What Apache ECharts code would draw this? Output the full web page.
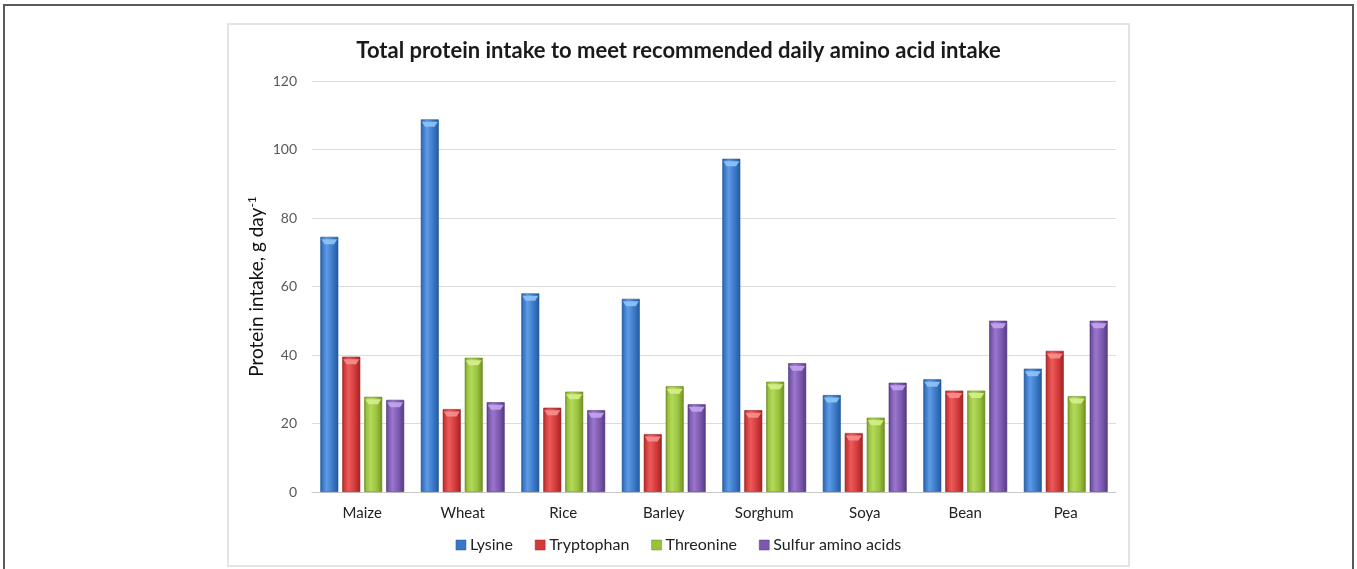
<!DOCTYPE html>
<html>
<head>
<meta charset="utf-8">
<script src="https://cdn.jsdelivr.net/npm/echarts@6/dist/echarts.min.js"></script>
<style>
  html, body { margin: 0; padding: 0; background: #ffffff; }
  #chart { width: 1357px; height: 569px; }
</style>
</head>
<body>
<div id="chart"></div>
<script>
// Crops and amino acids
const crops = ['Maize', 'Wheat', 'Rice', 'Barley', 'Sorghum', 'Soya', 'Bean', 'Pea'];
const seriesNames = ['Lysine', 'Tryptophan', 'Threonine', 'Sulfur amino acids'];

// Total protein intake (g/day) needed to meet the recommended intake of each amino acid
const lysine      = [74.5, 108.8, 58.0, 56.4, 97.3, 28.3, 32.9, 36.0];
const tryptophan  = [39.5, 24.2, 24.6, 16.9, 23.9, 17.2, 29.6, 41.2];
const threonine   = [27.8, 39.2, 29.3, 30.9, 32.2, 21.7, 29.6, 28.0];
const sulfurAA    = [26.9, 26.2, 23.9, 25.6, 37.6, 31.9, 50.0, 50.0];

const yTicks = [0, 20, 40, 60, 80, 100, 120];

const seriesData = [lysine, tryptophan, threonine, sulfurAA];

// dark edge / light highlight / base for each series
const palette = [
  { dark: '#23599e', light: '#5d9be6', base: '#3a78c6', cap: '#8fc4f5', legend: '#3a78c6' },
  { dark: '#9e2323', light: '#ec5a5a', base: '#d33a3a', cap: '#f59090', legend: '#d33a3a' },
  { dark: '#6f8d24', light: '#b3d95a', base: '#98c23c', cap: '#d6ef8e', legend: '#98c23c' },
  { dark: '#533a80', light: '#9a76cc', base: '#7b58ae', cap: '#c3a5ee', legend: '#7b58ae' }
];

function bodyGradient(p) {
  return new echarts.graphic.LinearGradient(0, 0, 1, 0, [
    { offset: 0, color: p.dark },
    { offset: 0.12, color: p.base },
    { offset: 0.35, color: p.light },
    { offset: 0.7, color: p.base },
    { offset: 1, color: p.dark }
  ]);
}

const BAR_W = 18;
const BAR_GAP = '22%';
const FONT = 'Lato, "Open Sans", sans-serif';

const series = [];
seriesData.forEach((d, i) => {
  series.push({
    name: seriesNames[i],
    type: 'bar',
    data: d,
    barWidth: BAR_W,
    barGap: BAR_GAP,
    itemStyle: {
      color: bodyGradient(palette[i]),
      borderColor: palette[i].dark,
      borderWidth: 0.6
    },
    emphasis: { disabled: true }
  });
});
// Light bevel at the top of each bar
seriesData.forEach((d, i) => {
  series.push({
    name: seriesNames[i] + ' cap',
    type: 'pictorialBar',
    data: d,
    barWidth: BAR_W,
    barGap: BAR_GAP,
    symbol: 'path://M0,0 L20,0 L16,5 L4,5 Z',
    symbolSize: [BAR_W - 2, 5],
    symbolPosition: 'end',
    symbolOffset: [0, '50%'],
    itemStyle: { color: palette[i].cap, opacity: 0.9 },
    z: 3,
    silent: true,
    tooltip: { show: false }
  });
});

const chart = echarts.init(document.getElementById('chart'), null, { renderer: 'canvas' });

chart.setOption({
  backgroundColor: '#ffffff',
  animation: false,
  graphic: [
    {
      type: 'rect',
      shape: { x: 4, y: 5, width: 1349, height: 580 },
      style: { fill: 'transparent', stroke: '#5a5a5a', lineWidth: 2 },
      z: -10
    },
    {
      type: 'rect',
      shape: { x: 228, y: 24, width: 901, height: 542 },
      style: { fill: '#ffffff', stroke: '#e4e4e4', lineWidth: 2 },
      z: -9
    }
  ],
  title: {
    text: 'Total protein intake to meet recommended daily amino acid intake',
    left: 'center',
    top: 35,
    textStyle: { fontFamily: FONT, fontWeight: 'bold', fontSize: 22, color: '#1a1a1a' }
  },
  legend: {
    data: seriesNames.map((n, i) => ({
      name: n,
      itemStyle: { color: palette[i].legend, borderColor: palette[i].dark, borderWidth: 0.5 }
    })),
    bottom: 11,
    left: 'center',
    icon: 'rect',
    itemWidth: 10,
    itemHeight: 10,
    itemGap: 22,
    textStyle: { fontFamily: FONT, fontSize: 16, color: '#222222', padding: [0, 0, 0, -1] }
  },
  grid: { left: 312, right: 241, top: 81, bottom: 77 },
  xAxis: {
    type: 'category',
    data: crops,
    axisLine: { lineStyle: { color: '#c8c8c8', width: 1 } },
    axisTick: { show: false },
    axisLabel: { fontFamily: FONT, fontSize: 15, color: '#222222', margin: 14 }
  },
  yAxis: {
    type: 'value',
    min: yTicks[0],
    max: yTicks[yTicks.length - 1],
    interval: yTicks[1] - yTicks[0],
    name: '{n|Protein intake, g day}{s|-1}',
    nameLocation: 'middle',
    nameGap: 45,
    nameMoveOverlap: false,
    nameTextStyle: {
      rich: {
        n: { fontFamily: FONT, fontSize: 19, color: '#111111' },
        s: { fontFamily: FONT, fontSize: 12, color: '#111111', verticalAlign: 'top', padding: [0, 0, 9, 0] }
      }
    },
    axisLine: { show: false },
    axisTick: { show: false },
    axisLabel: { fontFamily: FONT, fontSize: 14, color: '#595959', margin: 15 },
    splitLine: { lineStyle: { color: '#dcdcdc', width: 1 } }
  },
  series: series
});
</script>
</body>
</html>
